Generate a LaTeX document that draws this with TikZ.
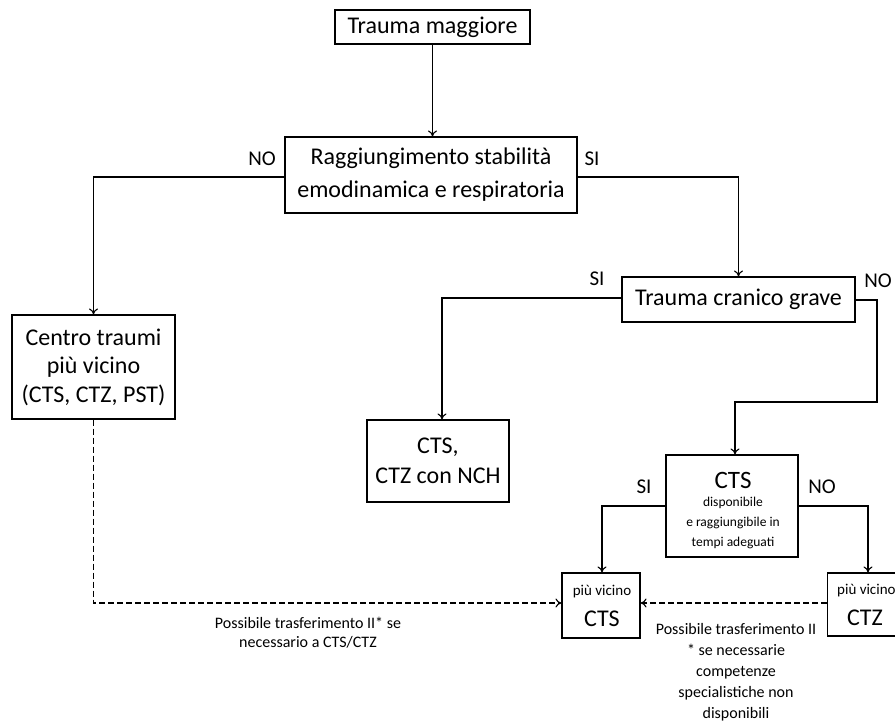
\documentclass[tikz,border=0pt]{standalone}
\usepackage{fontspec}
\setmainfont{Carlito}
\usetikzlibrary{arrows.meta}
\begin{document}
\begin{tikzpicture}[x=1pt,y=-1pt,
  box/.style={draw,line width=1.1pt,align=center,inner sep=0pt,font=\fontsize{24}{33}\selectfont},
  lbl/.style={font=\fontsize{21}{24}\selectfont},
  small/.style={align=center,font=\fontsize{16}{21}\selectfont},
  arr/.style={line width=1.1pt,-{To[length=6pt,width=9pt]}},
  darr/.style={line width=1.1pt,dash pattern=on 6pt off 3pt,-{To[length=6pt,width=9pt]}}]
\useasboundingbox (0,0) rectangle (895,723);
\node[box,minimum width=195,minimum height=34] (tm) at (432.5,27) {Trauma maggiore};
\node[box,minimum width=292,minimum height=76] (rs) at (431,175) {Raggiungimento stabilità\\emodinamica e respiratoria};
\node[box,minimum width=163,minimum height=104,font=\fontsize{24}{28.5}\selectfont] (ct) at (93.5,367) {Centro traumi\\più vicino\\(CTS, CTZ, PST)};
\node[box,minimum width=233,minimum height=45] (tc) at (738.5,299.5) {Trauma cranico grave};
\node[box,minimum width=142,minimum height=82,font=\fontsize{24}{30}\selectfont] (nch) at (438,461) {CTS,\\CTZ con NCH};
\node[box,minimum width=132,minimum height=102] (cd) at (732,506) {};
\node[font=\fontsize{25}{28}\selectfont] (cdt) at (733,480) {CTS};
\node[align=center,font=\fontsize{13.5}{20}\selectfont] (cds) at (733,523) {disponibile\\e raggiungibile in\\tempi adeguati};
\node[box,minimum width=78,minimum height=65] (pc) at (601,605.5) {};
\node[font=\fontsize{15}{17}\selectfont] (pct) at (602,592) {più vicino};
\node[font=\fontsize{24}{28}\selectfont] (pcb) at (602,619) {CTS};
\node[box,minimum width=80,minimum height=63,anchor=west] (pz) at (827,604.5) {};
\node[font=\fontsize{15}{17}\selectfont,anchor=west,inner sep=0pt] (pzt) at (837,591) {più vicino};
\node[font=\fontsize{24}{28}\selectfont] (pzb) at (865,618) {CTZ};
% labels
\node[lbl] (no1) at (262,159) {NO};
\node[lbl] (si1) at (592,159) {SI};
\node[lbl] (si2) at (597,279) {SI};
\node[lbl] (no2) at (878,281) {NO};
\node[lbl] (si3) at (644,487) {SI};
\node[lbl] (no3) at (822,487) {NO};
\node[small,font=\fontsize{16}{19}\selectfont] (l1) at (308,633) {Possibile trasferimento II* se\\necessario a CTS/CTZ};
\node[small] (l2) at (736,672) {Possibile trasferimento II\\* se necessarie\\competenze\\specialistiche non\\disponibili};
% connectors
\draw[arr] (tm.south) -- (rs.north-|tm.south);
\draw[arr] (rs.west|-0,177) -| (ct.north);
\draw[arr] (rs.east|-0,177) -| (tc.north);
\draw[arr] (tc.west|-0,298) -| (nch.north-|442,0);
\coordinate (c1) at (877,300);
\coordinate (c2) at (877,402);
\draw[arr] (tc.east|-c1) -- (c1) -- (c2) -| (cd.north-|735,0);
\draw[arr] (cd.west|-0,506) -| (pc.north-|602,0);
\draw[arr] (cd.east|-0,506) -| (pz.north-|868,0);
\draw[darr] (ct.south) |- (pc.west|-0,603);
\draw[darr] (pz.west|-0,603) -- (pc.east|-0,603);
\end{tikzpicture}
\end{document}
